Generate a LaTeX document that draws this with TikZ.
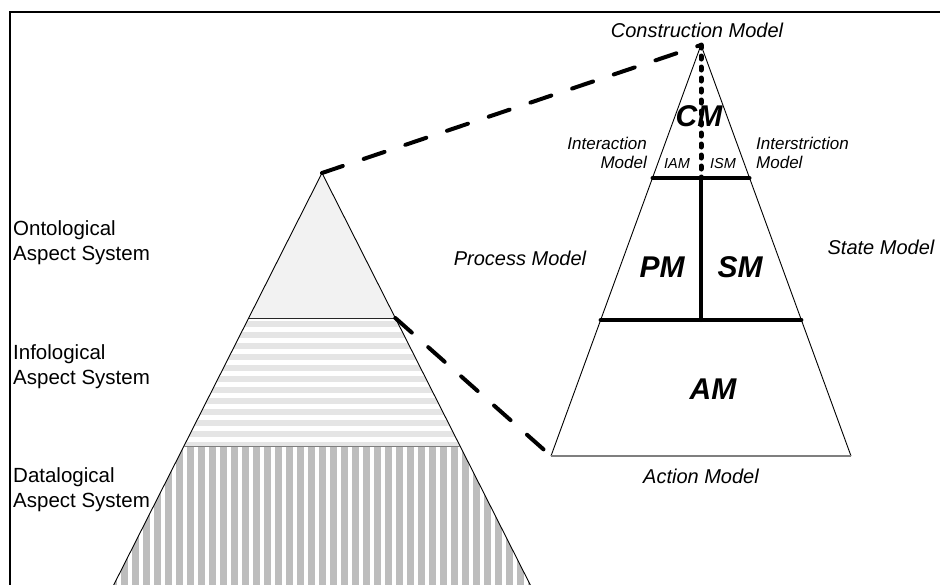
\documentclass[tikz,border=0pt]{standalone}
\usepackage{fontspec}
\setmainfont{Liberation Sans}
\definecolor{ontofill}{HTML}{F2F2F2}
\definecolor{infostripe}{HTML}{E5E5E5}
\definecolor{datastripe}{HTML}{BDBDBD}
\definecolor{edgegray}{HTML}{7F7F7F}
\begin{document}
\begin{tikzpicture}[x=1pt,y=-1pt,
  outline/.style={line width=0.9pt,black},
  graybase/.style={line width=1.5pt,edgegray},
  thickbar/.style={line width=4pt,line cap=round},
  linkline/.style={line width=4pt,line cap=round,dash pattern=on 22pt off 22pt},
  dotline/.style={line width=5pt,line cap=round,dash pattern=on 3pt off 8pt},
  txt/.style={inner sep=0pt,font=\fontsize{20.5}{25}\selectfont},
  itxt/.style={inner sep=0pt,font=\fontsize{20}{24}\selectfont\itshape},
  stxt/.style={inner sep=0pt,font=\fontsize{17}{18.5}\selectfont\itshape},
  tinytxt/.style={inner sep=0pt,font=\fontsize{14.5}{16}\selectfont\itshape},
  bigtxt/.style={inner sep=0pt,font=\fontsize{30}{32}\selectfont\bfseries\itshape}]
\useasboundingbox (0,0) rectangle (940,584);
\fill[white] (0,0) rectangle (940,584);

% key points of the aspect-system pyramid
\coordinate (lapex) at (322,173);
\coordinate (ontoL) at (248.7,318);
\coordinate (ontoR) at (395.3,318);
\coordinate (infoL) at (183.7,446.5);
\coordinate (infoR) at (460.3,446.5);
\coordinate (baseL) at (106.1,600);
\coordinate (baseR) at (537.9,600);

% key points of the model pyramid
\coordinate (rapex) at (701,45);
\coordinate (rbl) at (551,456);
\coordinate (rbr) at (851,456);
\coordinate (cmL) at (652.5,178);
\coordinate (cmR) at (749.5,178);
\coordinate (cmM) at (701,178);
\coordinate (pmL) at (600.6,320);
\coordinate (pmR) at (801.4,320);
\coordinate (pmM) at (701,320);

\begin{scope}
\clip (0,0) rectangle (940,584);
% ontological layer
\fill[ontofill] (lapex) -- (ontoR) -- (ontoL) -- cycle;
% infological layer: horizontal stripes
\begin{scope}
\clip (ontoL) -- (ontoR) -- (infoR) -- (infoL) -- cycle;
\foreach \y in {321,332,...,443}
  \fill[infostripe] (150,\y) rectangle (500,\y+5.7);
\end{scope}
% datalogical layer: vertical stripes
\begin{scope}
\clip (infoL) -- (infoR) -- (baseR) -- (baseL) -- cycle;
\foreach \i in {0,...,40}
  \fill[datastripe] (99.3+11*\i,446) rectangle (106+11*\i,600);
\end{scope}
\draw[outline] (baseL) -- (lapex) -- (baseR);
\draw[line width=0.9pt,black!85] (ontoL) -- (ontoR);
\draw[graybase] (infoL) -- (infoR);

% frame
\draw[line width=2pt] (10.3,600) -- (10.3,12) -- (950,12);
\end{scope}

% model pyramid
\draw[outline] (rbl) -- (rapex) -- (rbr);
\draw[graybase] (rbl) -- (rbr);
\draw[thickbar] (cmL) -- (cmR);
\draw[thickbar] (pmL) -- (pmR);
\draw[thickbar] (cmM) -- (pmM);
\draw[dotline] (rapex) -- (cmM);

% links between the two pyramids
\draw[linkline] (lapex) -- (rapex);
\draw[linkline] (ontoR) -- (rbl);

% aspect system labels
\node[txt,align=left,anchor=north west] (onto) at (13,220) {Ontological\\Aspect System};
\node[txt,align=left,anchor=north west] (info) at (13,344) {Infological\\Aspect System};
\node[txt,align=left,anchor=north west] (data) at (13,467) {Datalogical\\Aspect System};

% model labels
\node[itxt,anchor=base] (cons) at (697,37) {Construction Model};
\node[itxt,anchor=base] (proc) at (520,265) {Process Model};
\node[itxt,anchor=base] (state) at (881,254) {State Model};
\node[itxt,anchor=base] (act) at (701,483) {Action Model};
\node[stxt,align=right,anchor=north east] (inter) at (647,137) {Interaction\\Model};
\node[stxt,align=left,anchor=north west] (intr) at (756,137) {Interstriction\\Model};
\node[tinytxt,anchor=base] (iam) at (677,168) {IAM};
\node[tinytxt,anchor=base] (ism) at (723,168) {ISM};
\node[bigtxt,anchor=base] (cm) at (699,126) {CM};
\node[bigtxt,anchor=base] (pm) at (662,277) {PM};
\node[bigtxt,anchor=base] (sm) at (740,277) {SM};
\node[bigtxt,anchor=base] (am) at (713,399) {AM};
\end{tikzpicture}
\end{document}
